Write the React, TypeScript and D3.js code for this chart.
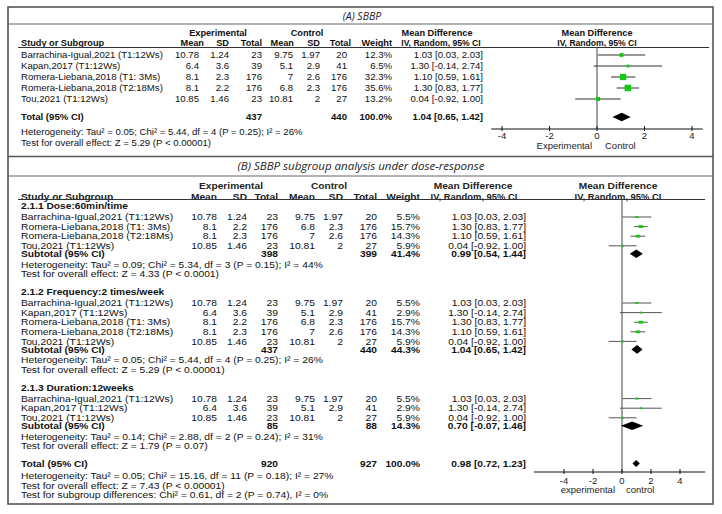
import * as d3 from 'd3';

// ---- Panel A data ----
const aStudy = [
  'Barrachina-Igual,2021 (T1:12Ws)',
  'Kapan,2017 (T1:12Ws)',
  'Romera-Liebana,2018 (T1: 3Ms)',
  'Romera-Liebana,2018 (T2:18Ms)',
  'Tou,2021 (T1:12Ws)',
];
const aExpMean = [10.78, 6.4, 8.1, 8.1, 10.85];
const aExpSD = [1.24, 3.6, 2.3, 2.2, 1.46];
const aExpN = [23, 39, 176, 176, 23];
const aCtlMean = [9.75, 5.1, 7, 6.8, 10.81];
const aCtlSD = [1.97, 2.9, 2.6, 2.3, 2];
const aCtlN = [20, 41, 176, 176, 27];
const aWeight = [12.3, 6.5, 32.3, 35.6, 13.2];
const aMD = [1.03, 1.3, 1.1, 1.3, 0.04];
const aLo = [0.03, -0.14, 0.59, 0.83, -0.92];
const aHi = [2.03, 2.74, 1.61, 1.77, 1.0];
const aTotalN = [437, 440];
const aTotalEffect = [1.04, 0.65, 1.42];
const aFooter = [
  'Heterogeneity: Tau² = 0.05; Chi² = 5.44, df = 4 (P = 0.25); I² = 26%',
  'Test for overall effect: Z = 5.29 (P < 0.00001)',
];

// ---- Panel B data ----
const bStudy = [
  'Barrachina-Igual,2021 (T1:12Ws)',
  'Kapan,2017 (T1:12Ws)',
  'Romera-Liebana,2018 (T1: 3Ms)',
  'Romera-Liebana,2018 (T2:18Ms)',
  'Tou,2021 (T1:12Ws)',
];
const bExpMean = [10.78, 6.4, 8.1, 8.1, 10.85];
const bExpSD = [1.24, 3.6, 2.2, 2.3, 1.46];
const bExpN = [23, 39, 176, 176, 23];
const bCtlMean = [9.75, 5.1, 6.8, 7, 10.81];
const bCtlSD = [1.97, 2.9, 2.3, 2.6, 2];
const bCtlN = [20, 41, 176, 176, 27];
const bWeight = [5.5, 2.9, 15.7, 14.3, 5.9];
const bMD = [1.03, 1.3, 1.3, 1.1, 0.04];
const bLo = [0.03, -0.14, 0.83, 0.59, -0.92];
const bHi = [2.03, 2.74, 1.77, 1.61, 1.0];

const subTitles = ['2.1.1 Dose:60min/time', '2.1.2 Frequency:2 times/week', '2.1.3 Duration:12weeks'];
const subMembers = [[0, 2, 3, 4], [0, 1, 2, 3, 4], [0, 1, 4]];
const subExpN = [398, 437, 85];
const subCtlN = [399, 440, 88];
const subWeight = [41.4, 44.3, 14.3];
const subMD = [0.99, 1.04, 0.7];
const subLo = [0.54, 0.65, -0.07];
const subHi = [1.44, 1.42, 1.46];
const subHet = [
  'Heterogeneity: Tau² = 0.09; Chi² = 5.34, df = 3 (P = 0.15); I² = 44%',
  'Heterogeneity: Tau² = 0.05; Chi² = 5.44, df = 4 (P = 0.25); I² = 26%',
  'Heterogeneity: Tau² = 0.14; Chi² = 2.88, df = 2 (P = 0.24); I² = 31%',
];
const subTest = [
  'Test for overall effect: Z = 4.33 (P < 0.0001)',
  'Test for overall effect: Z = 5.29 (P < 0.00001)',
  'Test for overall effect: Z = 1.79 (P = 0.07)',
];
const bTotalN = [920, 927];
const bTotalEffect = [0.98, 0.72, 1.23];
const bFooter = [
  'Heterogeneity: Tau² = 0.05; Chi² = 15.16, df = 11 (P = 0.18); I² = 27%',
  'Test for overall effect: Z = 7.43 (P < 0.00001)',
  'Test for subgroup differences: Chi² = 0.61, df = 2 (P = 0.74), I² = 0%',
];

const ticks = [-4, -2, 0, 2, 4];

const FONT = 'Liberation Sans, Arial, sans-serif';
const GREEN = '#14c814';

const ci = (m: number, l: number, h: number) => `${m.toFixed(2)} [${l.toFixed(2)}, ${h.toFixed(2)}]`;
const pct = (w: number) => `${w.toFixed(1)}%`;

interface Cols {
  name: number; em: number; esd: number; en: number; cm: number; csd: number; cn: number; w: number; ci: number;
}

const colsA: Cols = { name: 21, em: 199, esd: 229, en: 262, cm: 293, csd: 320, cn: 347, w: 392, ci: 483 };
const colsB: Cols = { name: 21, em: 217, esd: 247, en: 278, cm: 315, csd: 343, cn: 377, w: 420, ci: 526 };

// text with optional horizontal stretch (panel B glyphs are wider than tall)
const T = ({ x, y, sx = 1, anchor = 'start', fs, bold, fill = '#111', children }: {
  x: number; y: number; sx?: number; anchor?: string; fs: number; bold?: boolean; fill?: string; children: React.ReactNode;
}) => (
  <text
    transform={`translate(${x},${y}) scale(${sx},1)`}
    dy="0.35em"
    textAnchor={anchor}
    fontSize={fs}
    fontWeight={bold ? 'bold' : 'normal'}
    fill={fill}
  >
    {children}
  </text>
);

const Row = ({ y, c, fs, sx = 1, bold, cells }: { y: number; c: Cols; fs: number; sx?: number; bold?: boolean; cells: (string | null)[] }) => {
  const xs = [c.name, c.em, c.esd, c.en, c.cm, c.csd, c.cn, c.w, c.ci];
  return (
    <g>
      {cells.map((t, i) =>
        t === null ? null : (
          <T key={i} x={xs[i]} y={y} sx={sx} fs={fs} bold={bold} anchor={i === 0 ? 'start' : 'end'}>
            {t}
          </T>
        )
      )}
    </g>
  );
};

const Diamond = ({ x, y, m, l, h, hh }: { x: d3.ScaleLinear<number, number>; y: number; m: number; l: number; h: number; hh: number }) => (
  <path d={`M${x(l)},${y} L${x(m)},${y - hh} L${x(h)},${y} L${x(m)},${y + hh} Z`} fill="#000" />
);

const App = () => {
  const xA = d3.scaleLinear().domain([-4, 4]).range([502, 692]);
  const xB = d3.scaleLinear().domain([-4, 4]).range([564, 680]);
  const aAxisExtent = [-4.45, 4.45];
  const bAxisExtent = [-6.08, 5.73];

  // ---- layout for panel A ----
  const aRowY = aStudy.map((_, i) => 55 + i * 11);
  const aTotalY = 117;
  const aAxisY = 129;

  // ---- layout for panel B ----
  type BRow =
    | { kind: 'head'; y: number; g: number }
    | { kind: 'study'; y: number; s: number }
    | { kind: 'sub'; y: number; g: number }
    | { kind: 'het'; y: number; text: string };
  const bRows: BRow[] = [];
  let y = 206;
  subTitles.forEach((_, g) => {
    bRows.push({ kind: 'head', y, g });
    y += 11;
    subMembers[g].forEach((s, k) => {
      bRows.push({ kind: 'study', y, s });
      if (k < subMembers[g].length - 1) y += 9.6;
    });
    y += 8;
    bRows.push({ kind: 'sub', y, g });
    y += 10.8;
    bRows.push({ kind: 'het', y, text: subHet[g] });
    y += 9.6;
    bRows.push({ kind: 'het', y, text: subTest[g] });
    y += 17.8;
  });
  const bTotalY = y - 0.5;
  const bFooterY = bFooter.map((_, i) => bTotalY + 12 + i * 9.8);
  const bAxisY = 472;

  const fsA = 9.6;
  const fsAH = 9.2;
  const fsB = 9.2;
  const sxB = 1.12;
  const fsBB = 9.1;

  return (
    <svg width={722} height={514} style={{ position: 'absolute', left: 0, top: 0, background: '#fff' }} fontFamily={FONT}>
      <rect x={0} y={0} width={722} height={514} fill="#fff" />
      {/* frame */}
      <rect x={8} y={7} width={705} height={497} fill="none" stroke="#555" strokeWidth={1.6} />
      <line x1={8} x2={713} y1={24} y2={24} stroke="#666" strokeWidth={1.2} />
      <line x1={8} x2={713} y1={156.5} y2={156.5} stroke="#555" strokeWidth={1.4} />
      <line x1={8} x2={713} y1={176} y2={176} stroke="#666" strokeWidth={1.2} />
      <text x={362} y={16} dy="0.35em" textAnchor="middle" fontFamily="Open Sans" fontStyle="italic" fontSize={10.5} fill="#222">
        (A) SBBP
      </text>
      <text x={361} y={166} dy="0.35em" textAnchor="middle" fontFamily="Open Sans" fontStyle="italic" fontSize={11.5} fill="#222">
        (B) SBBP subgroup analysis under dose-response
      </text>

      {/* ===== Panel A ===== */}
      <g fill="#222">
        <T x={218} y={33} fs={fsAH} bold anchor="middle">Experimental</T>
        <T x={307} y={33} fs={fsAH} bold anchor="middle">Control</T>
        <T x={437} y={33} fs={fsAH} bold anchor="middle">Mean Difference</T>
        <T x={597} y={33} fs={fsAH} bold anchor="middle">Mean Difference</T>
        <T x={21} y={43} fs={fsAH} bold>Study or Subgroup</T>
        <T x={204} y={43} fs={fsAH} bold anchor="end">Mean</T>
        <T x={229} y={43} fs={fsAH} bold anchor="end">SD</T>
        <T x={262} y={43} fs={fsAH} bold anchor="end">Total</T>
        <T x={294} y={43} fs={fsAH} bold anchor="end">Mean</T>
        <T x={320} y={43} fs={fsAH} bold anchor="end">SD</T>
        <T x={351} y={43} fs={fsAH} bold anchor="end">Total</T>
        <T x={392} y={43} fs={fsAH} bold anchor="end">Weight</T>
        <T x={441} y={43} fs={8.6} bold anchor="middle">IV, Random, 95% CI</T>
        <T x={597} y={43} fs={8.6} bold anchor="middle">IV, Random, 95% CI</T>
      </g>
      <line x1={18} x2={709} y1={47.5} y2={47.5} stroke="#333" strokeWidth={1} />
      {aStudy.map((s, i) => (
        <Row
          key={s}
          y={aRowY[i]}
          c={colsA}
          fs={fsA}
          cells={[s, String(aExpMean[i]), String(aExpSD[i]), String(aExpN[i]), String(aCtlMean[i]), String(aCtlSD[i]), String(aCtlN[i]), pct(aWeight[i]), ci(aMD[i], aLo[i], aHi[i])]}
        />
      ))}
      <Row
        y={aTotalY}
        c={colsA}
        fs={fsA}
        bold
        cells={['Total (95% CI)', null, null, String(aTotalN[0]), null, null, String(aTotalN[1]), pct(100), ci(aTotalEffect[0], aTotalEffect[1], aTotalEffect[2])]}
      />
      {aFooter.map((t, i) => (
        <T key={t} x={21} y={132 + i * 11} fs={fsA}>{t}</T>
      ))}
      {/* forest A */}
      <line x1={xA(0)} x2={xA(0)} y1={48} y2={aAxisY} stroke="#444" strokeWidth={1} />
      {aStudy.map((s, i) => {
        const sz = 1.1 * Math.sqrt(aWeight[i]);
        return (
          <g key={s}>
            <line x1={xA(aLo[i])} x2={xA(aHi[i])} y1={aRowY[i]} y2={aRowY[i]} stroke="#333" strokeWidth={1} />
            <rect x={xA(aMD[i]) - sz / 2} y={aRowY[i] - sz / 2} width={sz} height={sz} fill={GREEN} />
          </g>
        );
      })}
      <Diamond x={xA} y={aTotalY} m={aTotalEffect[0]} l={aTotalEffect[1]} h={aTotalEffect[2]} hh={4.2} />
      <line x1={xA(aAxisExtent[0])} x2={xA(aAxisExtent[1])} y1={aAxisY} y2={aAxisY} stroke="#111" strokeWidth={1} />
      {ticks.map((t) => (
        <g key={t}>
          <line x1={xA(t)} x2={xA(t)} y1={aAxisY - 3} y2={aAxisY + 2} stroke="#111" strokeWidth={1} />
          <T x={xA(t)} y={135.5} fs={9.5} anchor="middle" fill="#222">{t}</T>
        </g>
      ))}
      <T x={xA(0) - 5} y={146} fs={9.5} anchor="end" fill="#222">Experimental</T>
      <T x={xA(0) + 8} y={146} fs={9.5} fill="#222">Control</T>

      {/* ===== Panel B ===== */}
      <g>
        <T x={231} y={186} sx={sxB} fs={fsBB} bold anchor="middle" fill="#222">Experimental</T>
        <T x={329} y={186} sx={sxB} fs={fsBB} bold anchor="middle" fill="#222">Control</T>
        <T x={473} y={186} sx={sxB} fs={fsBB} bold anchor="middle" fill="#222">Mean Difference</T>
        <T x={618} y={186} sx={sxB} fs={fsBB} bold anchor="middle" fill="#222">Mean Difference</T>
        <T x={21} y={197} sx={sxB} fs={fsBB} bold fill="#222">Study or Subgroup</T>
        <T x={217} y={197} sx={sxB} fs={fsBB} bold anchor="end" fill="#222">Mean</T>
        <T x={247} y={197} sx={sxB} fs={fsBB} bold anchor="end" fill="#222">SD</T>
        <T x={278} y={197} sx={sxB} fs={fsBB} bold anchor="end" fill="#222">Total</T>
        <T x={315} y={197} sx={sxB} fs={fsBB} bold anchor="end" fill="#222">Mean</T>
        <T x={343} y={197} sx={sxB} fs={fsBB} bold anchor="end" fill="#222">SD</T>
        <T x={377} y={197} sx={sxB} fs={fsBB} bold anchor="end" fill="#222">Total</T>
        <T x={420} y={197} sx={sxB} fs={fsBB} bold anchor="end" fill="#222">Weight</T>
        <T x={474} y={197} sx={sxB} fs={8.4} bold anchor="middle" fill="#222">IV, Random, 95% CI</T>
        <T x={618} y={197} sx={sxB} fs={8.4} bold anchor="middle" fill="#222">IV, Random, 95% CI</T>
      </g>
      <line x1={18} x2={705} y1={199.5} y2={199.5} stroke="#333" strokeWidth={1} />
      <line x1={xB(0)} x2={xB(0)} y1={200} y2={bAxisY} stroke="#444" strokeWidth={1} />
      {bRows.map((r, i) => {
        if (r.kind === 'head') {
          return (
            <T key={i} x={21} y={r.y} sx={sxB} fs={fsBB} bold>
              {subTitles[r.g]}
            </T>
          );
        }
        if (r.kind === 'het') {
          return (
            <T key={i} x={21} y={r.y} sx={sxB} fs={fsB}>
              {r.text}
            </T>
          );
        }
        if (r.kind === 'study') {
          const s = r.s;
          const w = 1.2 * Math.sqrt(bWeight[s]);
          const h = Math.max(2, w * 0.6);
          return (
            <g key={i}>
              <Row
                y={r.y}
                c={colsB}
                fs={fsB}
                sx={sxB}
                cells={[bStudy[s], String(bExpMean[s]), String(bExpSD[s]), String(bExpN[s]), String(bCtlMean[s]), String(bCtlSD[s]), String(bCtlN[s]), pct(bWeight[s]), ci(bMD[s], bLo[s], bHi[s])]}
              />
              <line x1={xB(bLo[s])} x2={xB(bHi[s])} y1={r.y} y2={r.y} stroke="#555" strokeWidth={1} />
              <rect x={xB(bMD[s]) - w / 2} y={r.y - h / 2} width={w} height={h} fill={GREEN} />
            </g>
          );
        }
        const g = r.g;
        return (
          <g key={i}>
            <Row
              y={r.y}
              c={colsB}
              fs={fsBB}
              sx={sxB}
              bold
              cells={['Subtotal (95% CI)', null, null, String(subExpN[g]), null, null, String(subCtlN[g]), pct(subWeight[g]), ci(subMD[g], subLo[g], subHi[g])]}
            />
            <Diamond x={xB} y={r.y} m={subMD[g]} l={subLo[g]} h={subHi[g]} hh={4.3} />
          </g>
        );
      })}
      <Row
        y={bTotalY}
        c={colsB}
        fs={fsBB}
        sx={sxB}
        bold
        cells={['Total (95% CI)', null, null, String(bTotalN[0]), null, null, String(bTotalN[1]), pct(100), ci(bTotalEffect[0], bTotalEffect[1], bTotalEffect[2])]}
      />
      <Diamond x={xB} y={bTotalY} m={bTotalEffect[0]} l={bTotalEffect[1]} h={bTotalEffect[2]} hh={3.6} />
      {bFooter.map((t, i) => (
        <T key={t} x={21} y={bFooterY[i]} sx={sxB} fs={fsB}>{t}</T>
      ))}
      <line x1={xB(bAxisExtent[0])} x2={xB(bAxisExtent[1])} y1={bAxisY} y2={bAxisY} stroke="#111" strokeWidth={1} />
      {ticks.map((t) => (
        <g key={t}>
          <line x1={xB(t)} x2={xB(t)} y1={bAxisY - 3} y2={bAxisY + 2} stroke="#111" strokeWidth={1} />
          <T x={xB(t)} y={481} sx={1.08} fs={8.8} anchor="middle" fill="#222">{t}</T>
        </g>
      ))}
      <T x={xB(0) - 7} y={489.5} sx={1.08} fs={8.8} anchor="end" fill="#222">experimental</T>
      <T x={xB(0) + 4} y={489.5} sx={1.08} fs={8.8} fill="#222">control</T>
    </svg>
  );
};

export default App;
